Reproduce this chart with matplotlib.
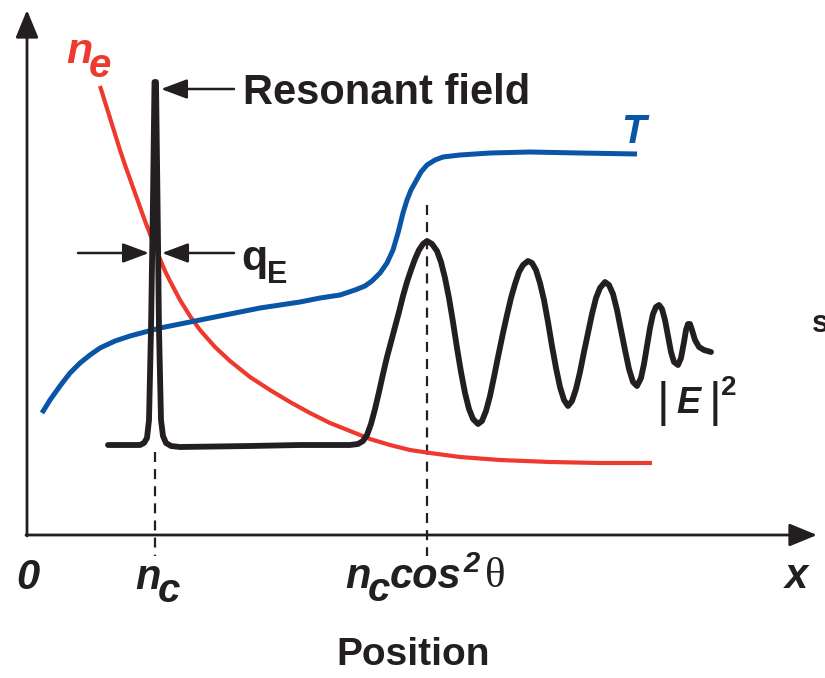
import matplotlib.pyplot as plt

# schematic drawn in picture coordinates (x right, y down)
FONT = 'Liberation Sans'
RED = '#ee3a2e'
BLUE = '#0a55a6'
BLACK = '#231f20'

# electron density n_e
ne_x = [100, 105, 110, 115, 120, 125, 130, 135, 140, 145, 150, 155, 160, 165, 170, 180, 190,
        200, 215, 230, 250, 270, 290, 310, 330, 350, 370, 390, 410, 430, 460, 500, 550, 600, 652]
ne_y = [86, 102, 118, 134, 150, 165, 179, 193, 207, 221, 234, 247, 259, 271, 281, 300, 316,
        330, 347, 361, 377, 390, 402, 413, 423, 431, 439, 445, 450, 453, 457, 460, 462, 463, 463]

# temperature T
t_x = [42, 50, 60, 70, 80, 90, 100, 115, 130, 145, 160, 180, 200, 230, 260, 300, 320, 340, 355,
       365, 372, 380, 387, 393, 398, 403, 407, 411, 416, 421, 427, 435, 443, 460, 490, 530, 580, 637]
t_y = [413, 400, 386, 373, 363, 355, 348, 341, 336, 332, 328, 324, 320, 314, 308, 302, 298, 295, 290,
       286, 281, 273, 263, 250, 233, 213, 200, 190, 181, 172, 165, 160, 157, 155, 153, 152, 153, 154]

# field intensity |E|^2
e_x = [108, 130, 140, 144, 147, 149, 151, 153, 154.5, 156, 157.5, 159, 161, 163, 166, 171, 180,
       250, 300, 350, 358, 363, 367, 371, 375, 379, 383, 387, 391, 395, 399, 403, 407, 411, 415,
       419, 423, 427, 432, 437, 441, 445, 449, 453, 457, 461, 465, 469, 473, 478, 482, 486, 490,
       494, 498, 503, 507, 511, 515, 519, 523, 528, 532, 536, 540, 544, 548, 552, 556, 560, 564,
       568, 572, 576, 580, 584, 588, 592, 596, 600, 605, 609, 613, 617, 621, 625, 629, 633, 637,
       641, 644, 647, 650, 653, 656, 659, 662, 665, 668, 671, 674, 678, 681, 684, 686, 688, 690,
       692, 695, 699, 704, 711]
e_y = [445, 445, 445, 443, 438, 420, 330, 200, 82, 82, 200, 330, 420, 436, 443, 446, 447,
       446, 445, 445, 444, 441, 435, 424, 409, 392, 374, 357, 342, 327, 312, 296, 282, 270, 259,
       250, 244, 241, 244, 251, 262, 278, 298, 322, 348, 372, 393, 409, 419, 424, 421, 411, 396,
       377, 357, 333, 315, 298, 284, 272, 265, 261, 263, 270, 283, 300, 322, 346, 368, 387, 400,
       406, 401, 389, 372, 352, 333, 314, 298, 288, 282, 285, 294, 310, 330, 350, 369, 382, 386,
       378, 364, 346, 328, 314, 307, 305, 309, 320, 336, 352, 362, 365, 358, 342, 330, 324, 324,
       330, 340, 347, 350, 352]

fig = plt.figure(figsize=(8.25, 6.78), dpi=100)
ax = fig.add_axes([0, 0, 1, 1])
ax.set_xlim(0, 825)
ax.set_ylim(678, 0)
ax.axis('off')

# axes with arrows
axis_arrow = dict(arrowstyle='-|>,head_length=1.7,head_width=0.7', lw=2, color=BLACK,
                  shrinkA=0, shrinkB=0)
ax.annotate('', xy=(27, 10), xytext=(27, 536), arrowprops=axis_arrow)
ax.annotate('', xy=(817, 535), xytext=(26, 535), arrowprops=axis_arrow)

# dashed guides
ax.plot([155, 155], [452, 556], ls=(0, (4.5, 3.2)), lw=1.6, color=BLACK)
ax.plot([427, 427], [205, 556], ls=(0, (4.5, 3.2)), lw=1.6, color=BLACK)

ax.plot(ne_x, ne_y, color=RED, lw=3, solid_capstyle='butt')
ax.plot(t_x, t_y, color=BLUE, lw=3.6, solid_capstyle='butt')
ax.plot(e_x, e_y, color=BLACK, lw=4.2, solid_joinstyle='round', solid_capstyle='round')

# annotations
arr = dict(arrowstyle='-|>,head_length=1.6,head_width=0.6', lw=1.8, color=BLACK,
           shrinkA=0, shrinkB=0)
ax.annotate('', xy=(161, 89), xytext=(234, 89), arrowprops=arr)
ax.text(243, 104, 'Resonant field', family=FONT, weight='bold', fontsize=30,
        color=BLACK, va='baseline')
ax.annotate('', xy=(149, 253), xytext=(78, 253), arrowprops=arr)
ax.annotate('', xy=(162, 253), xytext=(234, 253), arrowprops=arr)
ax.text(241, 270, 'q', family=FONT, weight='bold', fontsize=31, color=BLACK, va='baseline')
ax.text(267, 283, 'E', family=FONT, weight='bold', fontsize=22, color=BLACK, va='baseline')

ax.text(66, 63, 'n', family=FONT, weight='bold', style='italic', fontsize=31, color=RED,
        va='baseline')
ax.text(89, 77, 'e', family=FONT, weight='bold', style='italic', fontsize=29, color=RED,
        va='baseline')
ax.text(621, 143, 'T', family=FONT, weight='bold', style='italic', fontsize=29, color=BLUE,
        va='baseline')

ax.text(663, 416, '|', family=FONT, fontsize=35, color=BLACK, va='baseline', ha='center')
ax.text(676, 413, 'E', family=FONT, weight='bold', style='italic', fontsize=26, color=BLACK,
        va='baseline')
ax.text(715, 416, '|', family=FONT, fontsize=35, color=BLACK, va='baseline', ha='center')
ax.text(721, 395, '2', family=FONT, weight='bold', fontsize=20, color=BLACK, va='baseline')

ax.text(812, 332, 's', family=FONT, weight='bold', fontsize=22, color=BLACK, va='baseline')

# x-axis labels
lab = dict(family=FONT, weight='bold', style='italic', color=BLACK, va='baseline', ha='left')
ax.text(16, 589, '0', fontsize=30, **lab)
ax.text(135, 589, 'n', fontsize=30, **lab)
ax.text(158, 602, 'c', fontsize=29, **lab)
ax.text(345, 588, 'n', fontsize=30, **lab)
ax.text(368, 601, 'c', fontsize=29, **lab)
ax.text(390, 588, 'cos', fontsize=30, **lab)
ax.text(463, 572, '2', fontsize=21, **lab)
ax.text(485, 587, 'θ', ha='left', family='Liberation Serif', fontsize=31, color=BLACK,
        va='baseline')
ax.text(785, 588, 'x', fontsize=30, **lab)

ax.text(413, 665, 'Position', ha='center', family=FONT, weight='bold', fontsize=28,
        color=BLACK, va='baseline')

fig.savefig('out.png', dpi=100)
